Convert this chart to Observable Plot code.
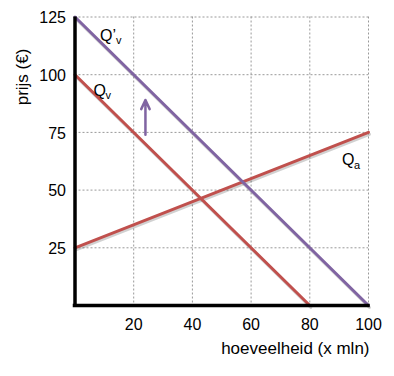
<!DOCTYPE html>
<html><head><meta charset="utf-8">
<script src="https://cdn.jsdelivr.net/npm/d3@7"></script>
<script src="https://cdn.jsdelivr.net/npm/@observablehq/plot@0.6"></script>
<style>
body{margin:0;background:#fff;}
svg{font-family:"Liberation Sans",Arial,sans-serif;}
</style>
</head><body>
<div id="chart"></div>
<script>
// data
const xTicks = [20, 40, 60, 80, 100];
const yTicks = [25, 50, 75, 100, 125];
const qvX = [0, 80], qvY = [100, 0];          // Qv (vraag)
const qv2X = [0, 100], qv2Y = [125, 0];       // Q'v (nieuwe vraag)
const qaX = [0, 100], qaY = [25, 75];         // Qa (aanbod)
const arrowX = [24], arrowY1 = [74], arrowY2 = [89];
const labelNames = ["Q’", "Q", "Q"];
const labelSubs = ["v", "v", "a"];
const labelX = [8.5, 6.3, 91];
const labelY = [117, 93, 63];
const yLabel = "prijs (€)";
const xLabel = "hoeveelheid (x mln)";

const red = "#c0504d", purple = "#8064a2";
const line = (xs, ys) => xs.map((x, i) => ({x, y: ys[i]}));
const labels = labelNames.map((n, i) => ({n, s: labelSubs[i], x: labelX[i], y: labelY[i]}));
const shadow = {stroke: "#000", strokeOpacity: 0.18, strokeWidth: 3, dx: 1, dy: 2};

const chart = Plot.plot({
  width: 394,
  height: 376,
  marginLeft: 74.5,
  marginRight: 26,
  marginTop: 16.5,
  marginBottom: 71,
  style: {fontSize: "16px", fontFamily: "Liberation Sans, Arial, sans-serif", color: "#000"},
  x: {domain: [0, 100]},
  y: {domain: [0, 125]},
  marks: [
    Plot.gridX(xTicks, {stroke: "#999", strokeOpacity: 1, strokeDasharray: "2,2", strokeWidth: 1}),
    Plot.gridY(yTicks, {stroke: "#999", strokeOpacity: 1, strokeDasharray: "2,2", strokeWidth: 1}),
    Plot.axisX(xTicks, {tickSize: 0, tickPadding: 13, fontSize: 16, label: null}),
    Plot.axisY(yTicks, {tickSize: 0, tickPadding: 9, fontSize: 16, label: null, dy: 1}),
    Plot.line(line(qaX, qaY), {x: "x", y: "y", ...shadow}),
    Plot.line(line(qvX, qvY), {x: "x", y: "y", ...shadow}),
    Plot.line(line(qv2X, qv2Y), {x: "x", y: "y", ...shadow}),
    Plot.line(line(qaX, qaY), {x: "x", y: "y", stroke: red, strokeWidth: 3}),
    Plot.line(line(qvX, qvY), {x: "x", y: "y", stroke: red, strokeWidth: 3}),
    Plot.line(line(qv2X, qv2Y), {x: "x", y: "y", stroke: purple, strokeWidth: 3}),
    Plot.arrow(arrowX.map((x, i) => ({x, y1: arrowY1[i], y2: arrowY2[i]})),
      {x: "x", y1: "y1", y2: "y2", stroke: purple, strokeWidth: 2.5, headLength: 6, headAngle: 50}),
    Plot.ruleX([0], {stroke: "#000", strokeWidth: 3.5}),
    Plot.ruleY([0], {stroke: "#000", strokeWidth: 3.5, x1: -0.6, x2: 100.6}),
    Plot.text(labels, {x: "x", y: "y", text: "n", textAnchor: "start", fontSize: 16}),
    Plot.text(labels, {x: "x", y: "y", text: "s", textAnchor: "start", fontSize: 11,
      dx: 0, dy: 5, render: (index, scales, values, dims, ctx, next) => {
        const g = next(index, scales, values, dims, ctx);
        d3.select(g).selectAll("text").attr("dx", (d, i) => labels[index[i]].n.length > 1 ? 16 : 12);
        return g;
      }}),
    Plot.text([xLabel], {frameAnchor: "bottom-right", textAnchor: "end", dy: 48, dx: 1, fontSize: 17})
  ]
});
// rotated y-axis title placed in the upper part of the left margin
d3.select(chart).append("text")
  .attr("transform", "translate(28,77) rotate(-90)")
  .attr("text-anchor", "middle")
  .attr("font-size", 17)
  .attr("fill", "#000")
  .text(yLabel);
document.getElementById("chart").appendChild(chart);
</script>
</body></html>
